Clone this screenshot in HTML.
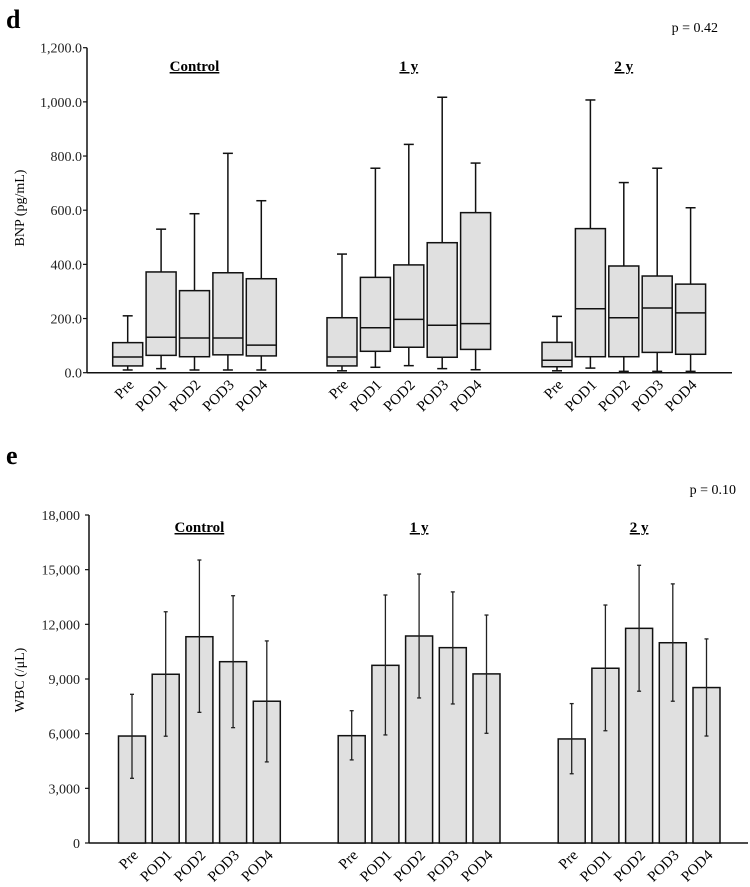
<!DOCTYPE html>
<html><head><meta charset="utf-8"><style>
html,body{margin:0;padding:0;background:#fff;}
svg{display:block;font-family:"Liberation Serif",serif;}
</style></head><body>
<svg id="chart" width="750" height="887" viewBox="0 0 750 887" xmlns="http://www.w3.org/2000/svg">
<text x="6" y="28" font-size="26" font-weight="bold">d</text>
<text x="6" y="464" font-size="26" font-weight="bold">e</text>
<text x="718" y="32" font-size="14" text-anchor="end">p = 0.42</text>
<text x="736" y="494" font-size="14" text-anchor="end">p = 0.10</text>
<text transform="translate(24,208) rotate(-90)" font-size="14" text-anchor="middle">BNP (pg/mL)</text>
<text transform="translate(24,680) rotate(-90)" font-size="14" text-anchor="middle">WBC (/μL)</text>
<g id="topG"></g><g id="botG"></g>
</svg>
<script>
const groups = ["Control","1 y","2 y"];
const cats = ["Pre","POD1","POD2","POD3","POD4"];
const bnpTicks = [0,200,400,600,800,1000,1200];
const bnpTickLabels = ["0.0","200.0","400.0","600.0","800.0","1,000.0","1,200.0"];
const bnpMin = [[10,15,10,10,10],[7,20,26,15,11],[7,17,5,5,5]];
const bnpQ1  = [[25,64,59,66,62],[25,79,94,57,86],[22,59,59,75,68]];
const bnpMed = [[58,131,128,128,102],[58,166,197,175,181],[46,236,203,239,221]];
const bnpQ3  = [[111,372,303,369,347],[203,352,398,480,591],[112,532,394,357,327]];
const bnpMax = [[210,530,587,810,635],[438,755,843,1017,774],[208,1007,702,755,609]];
const wbcTicks = [0,3000,6000,9000,12000,15000,18000];
const wbcTickLabels = ["0","3,000","6,000","9,000","12,000","15,000","18,000"];
const wbcMean = [[5870,9260,11320,9950,7780],[5890,9750,11360,10720,9280],[5710,9590,11780,10990,8530]];
const wbcHi = [[8160,12690,15530,13570,11090],[7260,13610,14760,13780,12510],[7650,13060,15240,14220,11200]];
const wbcLo = [[3550,5860,7170,6330,4450],[4560,5930,7960,7630,6020],[3800,6160,8330,7780,5870]];

const NS="http://www.w3.org/2000/svg";
function mk(parent,tag,attrs,text){const e=document.createElementNS(NS,tag);for(const k in attrs)e.setAttribute(k,attrs[k]);if(text!==undefined)e.textContent=text;parent.appendChild(e);return e;}

const yT = v => 372.7 - v*(325/1200);
const xT = (g,i) => [127.7,342,557][g] + i*33.4;
const yB = v => 843 - v*(328/18000);
const xB = (g,i) => [132,351.7,571.7][g] + i*33.7;

const topG=document.getElementById('topG');
const botG=document.getElementById('botG');

function axis(parent,x0,x1,yf,ticks,labels,name,lblX){
  let a=mk(parent,'line',{x1:x0,y1:yf(ticks[ticks.length-1]),x2:x0,y2:yf(0),stroke:'#111','stroke-width':1.5});
  
  
  let b=mk(parent,'line',{x1:x0,y1:yf(0),x2:x1,y2:yf(0),stroke:'#111','stroke-width':1.5});
  
  
  ticks.forEach((t,k)=>{
    let tk=mk(parent,'line',{x1:x0-4,y1:yf(t),x2:x0,y2:yf(t),stroke:'#111','stroke-width':1.2});
    
    
    let tl=mk(parent,'text',{x:lblX,y:yf(t)+5,'font-size':14,'text-anchor':'end',fill:'#222'},labels[k]);
    
    
  });
}
function xlabels(parent,xf,y0,name){
  groups.forEach((g,gi)=>cats.forEach((c,i)=>{
    const x=xf(gi,i)+7, y=y0+13;
    let t=mk(parent,'text',{x:x,y:y,'font-size':15,'text-anchor':'end',transform:`rotate(-45 ${x} ${y})`},c);
    
    
  }));
}
function titles(parent,xf,y,name){
  groups.forEach((g,gi)=>{
    const cx=xf(gi,2);
    let t=mk(parent,'text',{x:cx,y:y,'font-size':15,'font-weight':'bold','text-anchor':'middle','text-decoration':'underline'},g);
    
    
  });
}

axis(topG,87,732,yT,bnpTicks,bnpTickLabels,'bnp',82);
titles(topG,xT,71,'bnp');
xlabels(topG,xT,372.7,'bnp');
groups.forEach((g,gi)=>cats.forEach((c,i)=>{
  const cx=xT(gi,i), w=30;
  const gEl=mk(topG,'g',{});
  
  
  mk(gEl,'line',{x1:cx,y1:yT(bnpMax[gi][i]),x2:cx,y2:yT(bnpQ3[gi][i]),stroke:'#111','stroke-width':1.5});
  mk(gEl,'line',{x1:cx-5,y1:yT(bnpMax[gi][i]),x2:cx+5,y2:yT(bnpMax[gi][i]),stroke:'#111','stroke-width':1.5});
  mk(gEl,'line',{x1:cx,y1:yT(bnpQ1[gi][i]),x2:cx,y2:yT(bnpMin[gi][i]),stroke:'#111','stroke-width':1.5});
  mk(gEl,'line',{x1:cx-5,y1:yT(bnpMin[gi][i]),x2:cx+5,y2:yT(bnpMin[gi][i]),stroke:'#111','stroke-width':1.5});
  mk(gEl,'rect',{x:cx-w/2,y:yT(bnpQ3[gi][i]),width:w,height:yT(bnpQ1[gi][i])-yT(bnpQ3[gi][i]),fill:'#e0e0e0',stroke:'#111','stroke-width':1.5});
  mk(gEl,'line',{x1:cx-w/2,y1:yT(bnpMed[gi][i]),x2:cx+w/2,y2:yT(bnpMed[gi][i]),stroke:'#111','stroke-width':1.5});
}));

axis(botG,89,748,yB,wbcTicks,wbcTickLabels,'wbc',80);
titles(botG,xB,532,'wbc');
xlabels(botG,xB,843,'wbc');
groups.forEach((g,gi)=>cats.forEach((c,i)=>{
  const cx=xB(gi,i), w=27;
  const gEl=mk(botG,'g',{});
  
  
  mk(gEl,'rect',{x:cx-w/2,y:yB(wbcMean[gi][i]),width:w,height:yB(0)-yB(wbcMean[gi][i]),fill:'#e0e0e0',stroke:'#111','stroke-width':1.5});
  mk(gEl,'line',{x1:cx,y1:yB(wbcHi[gi][i]),x2:cx,y2:yB(wbcLo[gi][i]),stroke:'#222','stroke-width':1.3});
  mk(gEl,'line',{x1:cx-2,y1:yB(wbcHi[gi][i]),x2:cx+2,y2:yB(wbcHi[gi][i]),stroke:'#222','stroke-width':1.3});
  mk(gEl,'line',{x1:cx-2,y1:yB(wbcLo[gi][i]),x2:cx+2,y2:yB(wbcLo[gi][i]),stroke:'#222','stroke-width':1.3});
}));
</script>
</body></html>
